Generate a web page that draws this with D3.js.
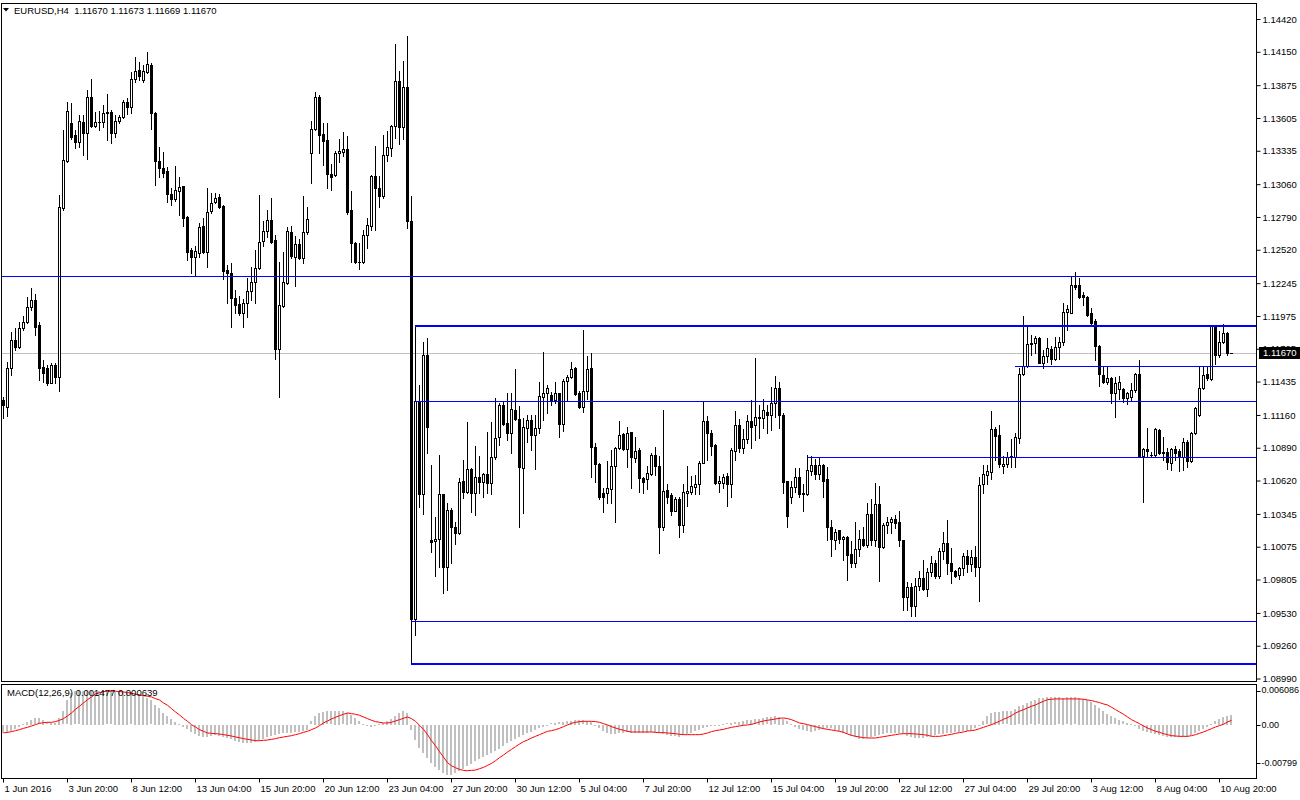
<!DOCTYPE html>
<html><head><meta charset="utf-8">
<script src="https://cdn.jsdelivr.net/npm/d3@7/dist/d3.min.js"></script>
<style>
html,body{margin:0;padding:0;background:#fff;}
svg{display:block;}
text{font-family:"Liberation Sans",Arial,sans-serif;font-size:9.5px;fill:#000;}
</style></head><body>
<svg id="c" width="1300" height="800"></svg>
<script>
// ===== DATA (EURUSD H4, 1 Jun 2016 04:00 .. 11 Aug 2016 08:00) =====
const open=[
1.11284,1.11229,1.11545,1.11778,1.11723,1.11874,1.11928,1.12052,1.12107,1.11901,
1.11558,1.11545,1.11427,1.11572,1.11476,1.12862,1.13253,1.13561,1.13465,1.13410,
1.13574,1.13484,1.13775,1.13541,1.13574,1.13572,1.13652,1.13657,1.13479,1.13580,
1.13615,1.13739,1.13698,1.13923,1.14000,1.13917,1.13986,1.14041,1.13644,1.13253,
1.13196,1.13171,1.12979,1.12936,1.13007,1.13045,1.12787,1.12518,1.12458,1.12496,
1.12716,1.12504,1.12837,1.12916,1.12952,1.12880,1.12354,1.12332,1.12121,1.12074,
1.12003,1.12085,1.12184,1.12253,1.12373,1.12593,1.12677,1.12765,1.12601,1.11701,
1.12060,1.12244,1.12669,1.12463,1.12568,1.12450,1.12664,1.13319,1.13512,1.13780,
1.13477,1.13424,1.13141,1.13132,1.13314,1.13328,1.13353,1.12849,1.12579,1.12416,
1.12416,1.12638,1.12719,1.13126,1.13028,1.12963,1.13304,1.13359,1.13539,1.13906,
1.13532,1.13864,1.12758,1.09482,1.11272,1.10507,1.11652,1.10132,1.10118,1.10137,
1.10510,1.09912,1.10379,1.10236,1.10192,1.10615,1.10529,1.10714,1.10521,1.10648,
1.10612,1.10675,1.10603,1.10812,1.10977,1.11243,1.11092,1.11010,1.11202,1.11125,
1.10722,1.11051,1.11119,1.10996,1.11051,1.11311,1.11344,1.11325,1.11284,1.11344,
1.11086,1.11440,1.11471,1.11545,1.11339,1.11229,1.11360,1.11545,1.10894,1.10757,
1.10521,1.10521,1.10549,1.10741,1.10886,1.11004,1.10878,1.11018,1.10804,1.10872,
1.10640,1.10631,1.10672,1.10831,1.10741,1.10236,1.10543,1.10502,1.10373,1.10467,
1.10255,1.10521,1.10529,1.10570,1.10593,1.10768,1.11111,1.11010,1.10914,1.10598,
1.10603,1.10658,1.10590,1.10867,1.11078,1.10886,1.10960,1.11111,1.11078,1.11133,
1.11133,1.11188,1.11160,1.11257,1.11380,1.11160,1.10620,1.10488,1.10565,1.10648,
1.10510,1.10510,1.10702,1.10747,1.10675,1.10747,1.10631,1.10236,1.10132,1.10209,
1.10137,1.10154,1.10016,1.09945,1.10055,1.10137,1.10091,1.10346,1.10132,1.10428,
1.10072,1.10255,1.10277,1.10302,1.10277,1.10132,1.09665,1.09747,1.09583,1.09753,
1.09816,1.09726,1.09866,1.09940,1.09836,1.10036,1.10104,1.09940,1.09871,1.09844,
1.09899,1.10000,1.09934,1.09989,1.09907,1.10593,1.10667,1.10694,1.11043,1.10996,
1.10741,1.10757,1.10817,1.10812,1.10969,1.11498,1.11564,1.11745,1.11751,1.11792,
1.11591,1.11646,1.11701,1.11619,1.11717,1.11764,1.12008,1.12003,1.12230,1.12230,
1.12148,1.12129,1.12003,1.11937,1.11728,1.11490,1.11435,1.11463,1.11339,1.11372,
1.11372,1.11298,1.11311,1.11366,1.11498,1.10823,1.10878,1.10831,1.10831,1.11037,
1.10845,1.10859,1.10768,1.10878,1.10867,1.10817,1.10941,1.10784,1.11010,1.11160,
1.11380,1.11498,1.11454,1.11893,1.11654,1.11764,1.11838,1.11670];
const high=[
1.11309,1.11600,1.11846,1.11877,1.11928,1.11975,1.12134,1.12203,1.12157,1.11928,
1.11613,1.11572,1.11586,1.11586,1.12971,1.13506,1.13739,1.13725,1.13506,1.13629,
1.13629,1.13835,1.13923,1.13657,1.13665,1.13712,1.13802,1.13671,1.13629,1.13629,
1.13753,1.13767,1.13986,1.14109,1.14068,1.14041,1.14150,1.14055,1.13657,1.13369,
1.13328,1.13199,1.13026,1.13210,1.13117,1.13045,1.12798,1.12532,1.12551,1.12738,
1.12779,1.13026,1.12985,1.12985,1.12979,1.12889,1.12395,1.12409,1.12189,1.12140,
1.12113,1.12286,1.12381,1.12518,1.12971,1.12757,1.12848,1.12944,1.12642,1.12422,
1.12504,1.12710,1.12716,1.12634,1.12607,1.12963,1.12875,1.13583,1.13821,1.13794,
1.13564,1.13564,1.13223,1.13337,1.13435,1.13490,1.13457,1.13002,1.12588,1.12579,
1.12686,1.12784,1.13132,1.13376,1.13126,1.13467,1.13500,1.13548,1.14216,1.13988,
1.14076,1.14281,1.12963,1.11896,1.11408,1.11759,1.11792,1.10749,1.10323,1.10831,
1.10510,1.10434,1.10393,1.10282,1.10640,1.10790,1.11105,1.10722,1.10905,1.10823,
1.10686,1.11023,1.11105,1.11298,1.11257,1.11278,1.11339,1.11344,1.11537,1.11235,
1.11133,1.11160,1.11160,1.11160,1.11435,1.11681,1.11408,1.11352,1.11435,1.11344,
1.11454,1.11490,1.11599,1.11558,1.11360,1.11860,1.11646,1.11673,1.10927,1.10768,
1.10557,1.10784,1.10872,1.10894,1.11113,1.11015,1.11059,1.11023,1.10982,1.10886,
1.10653,1.10741,1.10845,1.10894,1.10823,1.11202,1.10593,1.10516,1.10483,1.10483,
1.10593,1.10741,1.10658,1.10667,1.10784,1.11270,1.11152,1.11037,1.10922,1.10658,
1.10675,1.10681,1.10886,1.11196,1.11125,1.11043,1.11160,1.11284,1.11630,1.11243,
1.11290,1.11243,1.11394,1.11482,1.11435,1.11180,1.10620,1.10620,1.10722,1.10722,
1.10593,1.10831,1.10818,1.10796,1.10804,1.10757,1.10735,1.10291,1.10220,1.10214,
1.10164,1.10164,1.10118,1.10282,1.10214,1.10241,1.10434,1.10467,1.10598,1.10576,
1.10274,1.10318,1.10323,1.10338,1.10365,1.10132,1.09788,1.09775,1.09816,1.09871,
1.09962,1.09899,1.10000,1.09967,1.10063,1.10200,1.10296,1.10063,1.09885,1.09912,
1.10022,1.10049,1.10044,1.10077,1.10653,1.10749,1.10749,1.11196,1.11064,1.11078,
1.10823,1.10859,1.10960,1.11010,1.11545,1.11975,1.11887,1.11819,1.11811,1.11805,
1.11695,1.11792,1.11728,1.11800,1.11805,1.12085,1.12066,1.12299,1.12340,1.12285,
1.12175,1.12140,1.12039,1.11948,1.11737,1.11553,1.11553,1.11476,1.11476,1.11482,
1.11380,1.11352,1.11421,1.11509,1.11613,1.10886,1.11051,1.10859,1.11051,1.11043,
1.10977,1.10886,1.10886,1.10905,1.10878,1.10969,1.10955,1.11023,1.11229,1.11558,
1.11558,1.11553,1.11893,1.11893,1.11855,1.11909,1.11846,1.11673];
const low=[
1.11136,1.11152,1.11490,1.11695,1.11709,1.11860,1.11915,1.12025,1.11819,1.11449,
1.11435,1.11408,1.11421,1.11421,1.11360,1.12848,1.13245,1.13430,1.13355,1.13369,
1.13300,1.13265,1.13528,1.13533,1.13506,1.13528,1.13424,1.13402,1.13451,1.13566,
1.13602,1.13638,1.13644,1.13903,1.13917,1.13903,1.13973,1.13512,1.13053,1.13122,
1.13122,1.12916,1.12889,1.12924,1.12806,1.12716,1.12436,1.12332,1.12313,1.12463,
1.12491,1.12376,1.12820,1.12903,1.12861,1.12277,1.12079,1.11882,1.11997,1.11984,
1.11887,1.11970,1.12107,1.12085,1.12360,1.12551,1.12628,1.12573,1.11619,1.11306,
1.12052,1.12239,1.12450,1.12224,1.12442,1.12414,1.12650,1.13072,1.13506,1.13319,
1.13218,1.13029,1.13012,1.13128,1.13239,1.13295,1.12817,1.12416,1.12410,1.12361,
1.12410,1.12533,1.12686,1.12686,1.12872,1.12946,1.13249,1.13295,1.13444,1.13392,
1.13435,1.12703,1.09111,1.09352,1.10399,1.10344,1.10850,1.10035,1.09836,1.09912,
1.09698,1.09715,1.09945,1.10099,1.10181,1.10475,1.10521,1.10357,1.10338,1.10516,
1.10488,1.10516,1.10510,1.10796,1.10914,1.11078,1.10955,1.10845,1.11119,1.10241,
1.10351,1.10941,1.10872,1.10713,1.11010,1.11119,1.11174,1.11243,1.11257,1.10977,
1.11031,1.11284,1.11463,1.11325,1.11216,1.11188,1.11290,1.10653,1.10612,1.10467,
1.10357,1.10439,1.10434,1.10282,1.10878,1.10872,1.10735,1.10557,1.10776,1.10529,
1.10521,1.10549,1.10667,1.10667,1.10022,1.10214,1.10434,1.10338,1.10365,1.10154,
1.10200,1.10412,1.10510,1.10510,1.10510,1.10763,1.10790,1.10831,1.10593,1.10529,
1.10557,1.10412,1.10488,1.10790,1.10859,1.10845,1.10930,1.10886,1.10955,1.10969,
1.11051,1.11015,1.11037,1.11147,1.11051,1.10521,1.10241,1.10439,1.10529,1.10488,
1.10365,1.10502,1.10667,1.10631,1.10631,1.10483,1.10132,1.09995,1.10055,1.10104,
1.09967,1.09803,1.09907,1.09907,1.09995,1.10077,1.10072,1.10091,1.10077,1.09789,
1.10063,1.10192,1.10187,1.10228,1.10082,1.09556,1.09556,1.09507,1.09507,1.09720,
1.09720,1.09671,1.09830,1.09816,1.09816,1.09973,1.09852,1.09775,1.09825,1.09808,
1.09844,1.09863,1.09871,1.09836,1.09624,1.10521,1.10593,1.10631,1.10790,1.10730,
1.10681,1.10730,1.10735,1.10730,1.10927,1.11490,1.11558,1.11654,1.11668,1.11586,
1.11545,1.11600,1.11580,1.11613,1.11619,1.11736,1.11860,1.11998,1.12195,1.12121,
1.12066,1.11975,1.11909,1.11613,1.11399,1.11427,1.11416,1.11262,1.11141,1.11290,
1.11270,1.11251,1.11284,1.11352,1.10812,1.10447,1.10823,1.10812,1.10823,1.10840,
1.10790,1.10713,1.10708,1.10790,1.10702,1.10708,1.10735,1.10776,1.11004,1.11152,
1.11372,1.11449,1.11449,1.11580,1.11640,1.11756,1.11654,1.11669];
const close=[
1.11243,1.11545,1.11778,1.11720,1.11874,1.11928,1.12052,1.12107,1.11887,1.11545,
1.11509,1.11427,1.11572,1.11476,1.12875,1.13259,1.13662,1.13451,1.13410,1.13580,
1.13484,1.13780,1.13539,1.13569,1.13575,1.13648,1.13650,1.13479,1.13580,1.13610,
1.13739,1.13698,1.13923,1.13992,1.13951,1.13992,1.14049,1.13644,1.13253,1.13191,
1.13155,1.12977,1.12936,1.13012,1.13040,1.12779,1.12504,1.12458,1.12508,1.12710,
1.12504,1.12834,1.12908,1.12944,1.12875,1.12348,1.12332,1.12121,1.12066,1.12003,
1.12085,1.12184,1.12258,1.12368,1.12587,1.12677,1.12765,1.12587,1.11701,1.12066,
1.12253,1.12675,1.12469,1.12568,1.12450,1.12664,1.12771,1.13512,1.13775,1.13465,
1.13418,1.13141,1.13119,1.13314,1.13337,1.13353,1.12833,1.12579,1.12416,1.12420,
1.12644,1.12725,1.13126,1.13028,1.12963,1.13304,1.13363,1.13539,1.13906,1.13532,
1.13858,1.12758,1.09482,1.11272,1.10507,1.11652,1.11059,1.10113,1.10140,1.10510,
1.09912,1.10379,1.10236,1.10187,1.10612,1.10529,1.10714,1.10521,1.10653,1.10612,
1.10675,1.10603,1.10812,1.10969,1.11243,1.11086,1.11010,1.11208,1.11125,1.10730,
1.11059,1.11119,1.10996,1.11051,1.11317,1.11344,1.11380,1.11284,1.11344,1.11086,
1.11440,1.11471,1.11537,1.11333,1.11229,1.11360,1.11537,1.10894,1.10755,1.10488,
1.10488,1.10557,1.10741,1.10886,1.10996,1.10878,1.11010,1.10812,1.10867,1.10640,
1.10612,1.10681,1.10831,1.10741,1.10236,1.10537,1.10488,1.10373,1.10467,1.10255,
1.10529,1.10535,1.10576,1.10593,1.10768,1.11111,1.11010,1.10905,1.10598,1.10617,
1.10653,1.10590,1.10872,1.11078,1.10886,1.10960,1.11111,1.11064,1.11141,1.11141,
1.11202,1.11160,1.11262,1.11380,1.11160,1.10612,1.10330,1.10570,1.10648,1.10510,
1.10514,1.10708,1.10747,1.10675,1.10747,1.10620,1.10236,1.10137,1.10200,1.10137,
1.10154,1.10008,1.09945,1.10055,1.10137,1.10091,1.10346,1.10132,1.10428,1.10072,
1.10255,1.10277,1.10302,1.10274,1.10132,1.09660,1.09747,1.09589,1.09753,1.09816,
1.09726,1.09866,1.09940,1.09836,1.10036,1.10104,1.09940,1.09871,1.09836,1.09899,
1.10000,1.09934,1.09989,1.09907,1.10584,1.10675,1.10702,1.11043,1.10988,1.10757,
1.10757,1.10812,1.10819,1.10977,1.11498,1.11564,1.11745,1.11756,1.11792,1.11591,
1.11646,1.11709,1.11619,1.11717,1.11764,1.12011,1.12033,1.12230,1.12216,1.12134,
1.12129,1.11984,1.11920,1.11728,1.11498,1.11435,1.11463,1.11344,1.11427,1.11435,
1.11298,1.11344,1.11366,1.11498,1.10823,1.10878,1.10867,1.10834,1.11043,1.10845,
1.10859,1.10776,1.10878,1.10845,1.10817,1.10941,1.10784,1.11015,1.11216,1.11380,
1.11490,1.11463,1.11893,1.11654,1.11764,1.11838,1.11673,1.11670];
const macdMain=[
-0.00125,-0.00115,-0.00095,-0.00065,-0.00035,0.00010,0.00045,0.00075,0.00095,0.00095,
0.00075,0.00035,0.00025,0.00030,0.00100,0.00200,0.00365,0.00475,0.00500,0.00500,
0.00505,0.00510,0.00510,0.00510,0.00505,0.00505,0.00500,0.00500,0.00495,0.00495,
0.00490,0.00490,0.00485,0.00475,0.00460,0.00435,0.00400,0.00365,0.00300,0.00250,
0.00175,0.00125,0.00085,0.00045,0.00005,-0.00030,-0.00065,-0.00100,-0.00135,-0.00165,
-0.00180,-0.00185,-0.00165,-0.00150,-0.00160,-0.00175,-0.00190,-0.00210,-0.00235,-0.00255,
-0.00270,-0.00275,-0.00270,-0.00255,-0.00230,-0.00205,-0.00185,-0.00165,-0.00145,-0.00135,
-0.00125,-0.00120,-0.00115,-0.00105,-0.00100,-0.00085,-0.00075,0.00050,0.00135,0.00175,
0.00190,0.00200,0.00200,0.00205,0.00205,0.00200,0.00175,0.00140,0.00100,0.00050,
0.00015,-0.00010,-0.00025,-0.00015,0.00005,0.00030,0.00055,0.00090,0.00135,0.00175,
0.00210,0.00175,-0.00075,-0.00225,-0.00350,-0.00425,-0.00500,-0.00575,-0.00635,-0.00675,
-0.00725,-0.00750,-0.00750,-0.00725,-0.00695,-0.00655,-0.00615,-0.00585,-0.00545,-0.00515,
-0.00485,-0.00455,-0.00425,-0.00390,-0.00355,-0.00315,-0.00275,-0.00240,-0.00205,-0.00175,
-0.00150,-0.00125,-0.00100,-0.00075,-0.00050,-0.00025,0.00000,0.00020,0.00030,0.00035,
0.00040,0.00050,0.00060,0.00070,0.00075,0.00065,0.00055,0.00040,0.00000,-0.00050,
-0.00085,-0.00115,-0.00130,-0.00135,-0.00125,-0.00115,-0.00110,-0.00115,-0.00120,-0.00125,
-0.00125,-0.00125,-0.00110,-0.00115,-0.00125,-0.00140,-0.00150,-0.00160,-0.00170,-0.00175,
-0.00150,-0.00130,-0.00115,-0.00095,-0.00075,-0.00050,-0.00025,-0.00015,-0.00010,0.00000,
0.00010,0.00020,0.00025,0.00035,0.00045,0.00055,0.00065,0.00075,0.00080,0.00090,
0.00100,0.00110,0.00120,0.00125,0.00115,0.00090,0.00050,0.00015,-0.00025,-0.00055,
-0.00075,-0.00090,-0.00100,-0.00085,-0.00075,-0.00055,-0.00040,-0.00050,-0.00070,-0.00095,
-0.00115,-0.00140,-0.00165,-0.00185,-0.00210,-0.00215,-0.00195,-0.00175,-0.00160,-0.00150,
-0.00135,-0.00125,-0.00120,-0.00115,-0.00125,-0.00140,-0.00160,-0.00175,-0.00190,-0.00200,
-0.00195,-0.00185,-0.00170,-0.00155,-0.00140,-0.00130,-0.00120,-0.00115,-0.00110,-0.00100,
-0.00095,-0.00085,-0.00070,-0.00050,0.00000,0.00060,0.00125,0.00175,0.00190,0.00195,
0.00200,0.00200,0.00210,0.00235,0.00275,0.00300,0.00325,0.00350,0.00375,0.00395,
0.00405,0.00415,0.00415,0.00415,0.00410,0.00405,0.00410,0.00415,0.00410,0.00400,
0.00390,0.00375,0.00345,0.00300,0.00250,0.00200,0.00165,0.00125,0.00095,0.00075,
0.00050,0.00025,0.00010,-0.00015,-0.00060,-0.00085,-0.00105,-0.00115,-0.00130,-0.00145,
-0.00160,-0.00175,-0.00180,-0.00185,-0.00185,-0.00185,-0.00175,-0.00155,-0.00125,-0.00095,
-0.00065,-0.00030,0.00010,0.00050,0.00090,0.00115,0.00135,0.001477];
const macdSignal=[
-0.00125,-0.00115,-0.00105,-0.00090,-0.00075,-0.00055,-0.00040,-0.00020,0.00000,0.00020,
0.00030,0.00035,0.00035,0.00045,0.00065,0.00090,0.00130,0.00175,0.00230,0.00275,
0.00325,0.00375,0.00415,0.00460,0.00480,0.00495,0.00500,0.00500,0.00500,0.00495,
0.00490,0.00480,0.00470,0.00455,0.00445,0.00435,0.00425,0.00415,0.00390,0.00370,
0.00325,0.00290,0.00240,0.00190,0.00145,0.00095,0.00050,0.00000,-0.00035,-0.00075,
-0.00100,-0.00125,-0.00130,-0.00135,-0.00140,-0.00150,-0.00160,-0.00170,-0.00185,-0.00195,
-0.00210,-0.00220,-0.00230,-0.00240,-0.00240,-0.00235,-0.00230,-0.00220,-0.00210,-0.00195,
-0.00185,-0.00175,-0.00165,-0.00150,-0.00135,-0.00115,-0.00100,-0.00075,-0.00050,-0.00015,
0.00025,0.00055,0.00085,0.00110,0.00135,0.00155,0.00175,0.00165,0.00155,0.00140,
0.00115,0.00090,0.00065,0.00045,0.00035,0.00025,0.00025,0.00035,0.00055,0.00075,
0.00095,0.00115,0.00090,0.00050,-0.00010,-0.00070,-0.00150,-0.00240,-0.00315,-0.00405,
-0.00485,-0.00570,-0.00615,-0.00645,-0.00670,-0.00685,-0.00690,-0.00685,-0.00680,-0.00660,
-0.00640,-0.00610,-0.00580,-0.00540,-0.00495,-0.00455,-0.00410,-0.00370,-0.00330,-0.00290,
-0.00255,-0.00230,-0.00200,-0.00175,-0.00150,-0.00125,-0.00100,-0.00090,-0.00075,-0.00055,
-0.00030,-0.00005,0.00020,0.00035,0.00045,0.00050,0.00050,0.00050,0.00045,0.00035,
0.00015,-0.00005,-0.00030,-0.00050,-0.00070,-0.00085,-0.00100,-0.00110,-0.00110,-0.00110,
-0.00110,-0.00110,-0.00110,-0.00115,-0.00120,-0.00120,-0.00125,-0.00130,-0.00135,-0.00145,
-0.00150,-0.00150,-0.00150,-0.00150,-0.00150,-0.00140,-0.00125,-0.00105,-0.00090,-0.00080,
-0.00070,-0.00055,-0.00040,-0.00030,-0.00020,-0.00010,-0.00005,0.00005,0.00020,0.00040,
0.00055,0.00065,0.00075,0.00085,0.00095,0.00100,0.00090,0.00075,0.00050,0.00025,
0.00015,0.00000,-0.00015,-0.00030,-0.00045,-0.00060,-0.00070,-0.00080,-0.00090,-0.00100,
-0.00115,-0.00140,-0.00160,-0.00175,-0.00185,-0.00195,-0.00200,-0.00200,-0.00200,-0.00190,
-0.00180,-0.00170,-0.00160,-0.00150,-0.00140,-0.00135,-0.00135,-0.00135,-0.00140,-0.00145,
-0.00150,-0.00160,-0.00175,-0.00175,-0.00175,-0.00165,-0.00155,-0.00145,-0.00130,-0.00120,
-0.00110,-0.00095,-0.00090,-0.00080,-0.00060,-0.00040,-0.00020,0.00000,0.00025,0.00050,
0.00080,0.00105,0.00135,0.00175,0.00200,0.00225,0.00250,0.00275,0.00295,0.00325,
0.00350,0.00375,0.00380,0.00385,0.00385,0.00385,0.00385,0.00385,0.00385,0.00385,
0.00380,0.00370,0.00360,0.00345,0.00330,0.00310,0.00295,0.00260,0.00225,0.00190,
0.00155,0.00115,0.00075,0.00045,0.00015,-0.00020,-0.00050,-0.00075,-0.00100,-0.00115,
-0.00135,-0.00150,-0.00165,-0.00170,-0.00175,-0.00175,-0.00175,-0.00165,-0.00150,-0.00130,
-0.00110,-0.00085,-0.00060,-0.00035,-0.00015,0.00005,0.00040,0.000639];
const priceTicks=[1.14420,1.14150,1.13875,1.13605,1.13335,1.13060,1.12790,1.12520,1.12245,1.11975,
1.11705,1.11435,1.11160,1.10890,1.10620,1.10345,1.10075,1.09805,1.09530,1.09260,1.08990];
const timeTickIdx=[0,16,32,48,64,80,96,112,128,144,160,176,192,208,224,240,256,272,288,304];
const timeTickLabels=["1 Jun 2016","3 Jun 20:00","8 Jun 12:00","13 Jun 04:00","15 Jun 20:00","20 Jun 12:00",
"23 Jun 04:00","27 Jun 20:00","30 Jun 12:00","5 Jul 04:00","7 Jul 20:00","12 Jul 12:00","15 Jul 04:00",
"19 Jul 20:00","22 Jul 12:00","27 Jul 04:00","29 Jul 20:00","3 Aug 12:00","8 Aug 04:00","10 Aug 20:00"];
const levelPrices=[1.12304,1.11893,1.11564,1.11272,1.10815,1.09465,1.09111];
const levelStartBar=[null,103,253,103,201,102,102];
const macdTicks=[0.006086,0,-0.00799];
const macdTickLabels=["0.006086","0.00","-0.00799"];
const symbol="EURUSD,H4";
const bidPrice=1.11670;
const macdName="MACD(12,26,9)";

// ===== LAYOUT / STYLE =====
const X0=2, X1=1257, MT=3, MB=681, ST=684, SB=778;
const levelWidth=[1,2,1,1,1,1,2];
const svg=d3.select("#c");

const x=d3.scaleLinear().domain([0,open.length-1]).range([3,1231]);
const y=d3.scaleLinear().domain([1.08990,1.14420]).range([678.5,19]);
const ym=d3.scaleLinear().domain([-0.00799,0.006086]).range([SB,ST]);
const fmt5=d3.format(".5f");

svg.append("rect").attr("width",1300).attr("height",800).attr("fill","#fff");
const defs=svg.append("defs");
defs.append("clipPath").attr("id","cm").append("rect").attr("x",X0).attr("y",MT+1).attr("width",X1-X0).attr("height",MB-MT-1);
defs.append("clipPath").attr("id","cs").append("rect").attr("x",X0).attr("y",ST+1).attr("width",X1-X0).attr("height",SB-ST-1);

const bars=open.map((o,i)=>({i,o,h:high[i],l:low[i],c:close[i]}));
const R=v=>Math.round(v);

// main panel
const gm=svg.append("g").attr("clip-path","url(#cm)").attr("shape-rendering","crispEdges");
gm.append("rect").attr("x",X0).attr("width",X1-X0).attr("y",R(y(bidPrice))).attr("height",1).attr("fill","#c0c0c0");
gm.selectAll("rect.wick").data(bars).join("rect").attr("class","wick")
  .attr("x",d=>R(x(d.i))).attr("width",1)
  .attr("y",d=>R(y(d.h))).attr("height",d=>Math.max(1,R(y(d.l))-R(y(d.h))+1)).attr("fill","#000");
gm.selectAll("rect.body").data(bars).join("rect").attr("class","body")
  .attr("x",d=>R(x(d.i))-1).attr("width",3)
  .attr("y",d=>R(y(Math.max(d.o,d.c))))
  .attr("height",d=>Math.max(1,R(y(Math.min(d.o,d.c)))-R(y(Math.max(d.o,d.c)))+1)).attr("fill","#000");
gm.selectAll("rect.inner").data(bars.filter(d=>d.c>d.o)).join("rect").attr("class","inner")
  .attr("x",d=>R(x(d.i))).attr("width",1)
  .attr("y",d=>R(y(d.c))+1).attr("height",d=>Math.max(0,R(y(d.o))-R(y(d.c))-1)).attr("fill","#fff");
gm.selectAll("rect.level").data(levelPrices.map((p,k)=>({p,k}))).join("rect").attr("class","level")
  .attr("x",d=>levelStartBar[d.k]===null?X0:R(x(levelStartBar[d.k])))
  .attr("width",d=>X1-(levelStartBar[d.k]===null?X0:R(x(levelStartBar[d.k]))))
  .attr("y",d=>R(y(d.p))-(levelWidth[d.k]>1?1:0)).attr("height",d=>levelWidth[d.k]).attr("fill","#0000ff");

// MACD panel
const gs=svg.append("g").attr("clip-path","url(#cs)").attr("shape-rendering","crispEdges");
gs.selectAll("rect.hist").data(macdMain.map((v,i)=>({i,v}))).join("rect").attr("class","hist")
  .attr("x",d=>R(x(d.i))-1).attr("width",2)
  .attr("y",d=>R(Math.min(ym(d.v),ym(0))))
  .attr("height",d=>Math.max(1,R(Math.abs(ym(d.v)-ym(0)))))
  .attr("fill","#c0c0c0");
svg.append("g").attr("clip-path","url(#cs)").append("path")
  .datum(macdSignal.map((v,i)=>({i,v})))
  .attr("fill","none").attr("stroke","#ff0000").attr("stroke-width",1)
  .attr("d",d3.line().x(d=>x(d.i)+0.5).y(d=>ym(d.v)));

// frames
const fr=svg.append("g").attr("shape-rendering","crispEdges").attr("stroke","#000").attr("fill","none");
fr.append("rect").attr("x",X0-0.5).attr("y",MT+0.5).attr("width",X1-X0).attr("height",MB-MT);
fr.append("rect").attr("x",X0-0.5).attr("y",ST+0.5).attr("width",X1-X0).attr("height",SB-ST);

// price axis
const ay=svg.append("g").attr("transform",`translate(${X1-0.5},0)`)
  .call(d3.axisRight(y).tickValues(priceTicks).tickFormat(fmt5).tickSize(4).tickSizeOuter(0).tickPadding(2));
ay.select(".domain").remove();
ay.selectAll("text").attr("font-size",null).attr("font-family",null).attr("dy","0.33em");

// bid label box
svg.append("rect").attr("x",X1+2).attr("y",R(y(bidPrice))-6).attr("width",41).attr("height",12).attr("fill","#000");
svg.append("text").attr("x",X1+6).attr("y",y(bidPrice)).attr("dy","0.35em").style("fill","#fff").text(fmt5(bidPrice));

// MACD axis (labels kept inside window like MT4)
const mOff=[6.5,0,-15];
const am=svg.append("g").attr("transform",`translate(${X1-0.5},0)`);
am.selectAll("line").data(macdTicks).join("line").attr("x1",0).attr("x2",4)
  .attr("y1",(d,k)=>R(ym(d)+mOff[k])+0.5).attr("y2",(d,k)=>R(ym(d)+mOff[k])+0.5).attr("stroke","#000");
am.selectAll("text").data(macdTicks).join("text").attr("x",5)
  .attr("y",(d,k)=>ym(d)+mOff[k]).attr("dy","0.33em").style("font-size","9px").text((d,k)=>macdTickLabels[k]);

// time axis
const ax=svg.append("g").attr("transform",`translate(0,${SB+0.5})`)
  .call(d3.axisBottom(x).tickValues(timeTickIdx).tickFormat((d,k)=>timeTickLabels[k]).tickSize(4).tickSizeOuter(0).tickPadding(3));
ax.select(".domain").remove();
ax.selectAll("text").attr("font-size",null).attr("font-family",null).attr("text-anchor","start").attr("x",1);

// header
svg.append("path").attr("d","M3,8 L9,8 L6,11.5 Z").attr("fill","#000");
svg.append("text").attr("x",14).attr("y",14).attr("xml:space","preserve").style("white-space","pre")
  .text(`${symbol}  ${fmt5(open[open.length-1])} ${fmt5(high[high.length-1])} ${fmt5(low[low.length-1])} ${fmt5(close[close.length-1])}`);
svg.append("text").attr("x",7).attr("y",696)
  .text(`${macdName} ${macdMain[macdMain.length-1].toFixed(6)} ${macdSignal[macdSignal.length-1].toFixed(6)}`);
</script>
</body></html>
